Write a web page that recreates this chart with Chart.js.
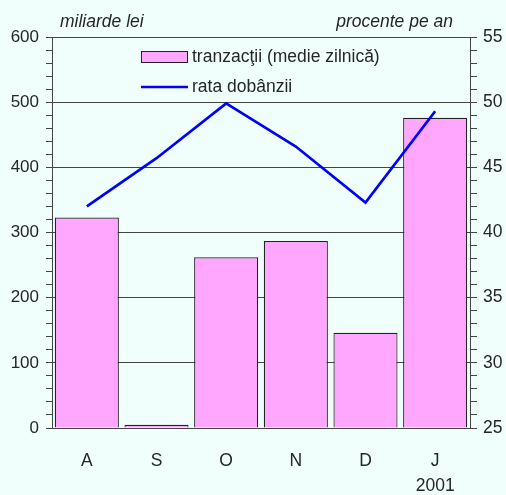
<!DOCTYPE html>
<html>
<head>
<meta charset="utf-8">
<script src="https://cdn.jsdelivr.net/npm/chart.js@4.4.1/dist/chart.umd.min.js"></script>
<style>
  html, body { margin: 0; padding: 0; background: #f0fffb; }
  #wrap { width: 506px; height: 495px; }
</style>
</head>
<body>
<div id="wrap"><canvas id="chart" width="506" height="495"></canvas></div>
<script>
// Data
const months = ['A', 'S', 'O', 'N', 'D', ['J', '2001']]
const tranzactii = [323, 5, 262, 287, 146, 476]
const rataDobanzii = [42.0, 45.7, 49.9, 46.6, 42.3, 49.3]
const leftTitle = 'miliarde lei'
const rightTitle = 'procente pe an'
const seriesLabels = ['tranzacţii (medie zilnică)', 'rata dobânzii']

const FONT = 'Arial, "Liberation Sans", sans-serif'
const TEXT = '#262626'
const GRID = '#444444'

// Axis titles and in-plot legend
const decorations = {
  id: 'decorations',
  afterDraw(chart) {
    const ctx = chart.ctx
    ctx.save()
    ctx.fillStyle = TEXT
    ctx.font = 'italic 17.5px ' + FONT
    ctx.textBaseline = 'alphabetic'
    ctx.textAlign = 'left'
    ctx.fillText(leftTitle, 60, 27)
    ctx.textAlign = 'right'
    ctx.fillText(rightTitle, 453, 27)

    // legend
    ctx.font = '17.5px ' + FONT
    ctx.textAlign = 'left'
    ctx.textBaseline = 'middle'
    ctx.fillStyle = '#ffa6ff'
    ctx.fillRect(141.5, 51.5, 46, 11)
    ctx.strokeStyle = '#222222'
    ctx.lineWidth = 1
    ctx.strokeRect(141.5, 51.5, 46, 11)
    ctx.fillStyle = TEXT
    ctx.fillText(seriesLabels[0], 192, 57)
    ctx.strokeStyle = '#0000ff'
    ctx.lineWidth = 2.5
    ctx.beginPath()
    ctx.moveTo(141, 87)
    ctx.lineTo(188, 87)
    ctx.stroke()
    ctx.fillText(seriesLabels[1], 192, 87)
    ctx.restore()
  }
}

new Chart(document.getElementById('chart'), {
  data: {
    labels: months,
    datasets: [
      {
        type: 'line',
        label: seriesLabels[1],
        data: rataDobanzii,
        yAxisID: 'y1',
        borderColor: '#0000ff',
        borderWidth: 2.7,
        pointRadius: 0,
        tension: 0,
        order: 0
      },
      {
        type: 'bar',
        label: seriesLabels[0],
        data: tranzactii,
        yAxisID: 'y',
        backgroundColor: '#ffa6ff',
        borderColor: '#222222',
        borderWidth: 1.2,
        barPercentage: 0.92,
        categoryPercentage: 1,
        order: 1
      }
    ]
  },
  options: {
    responsive: false,
    animation: false,
    layout: { padding: { top: 37, left: 0, right: 0, bottom: 0 } },
    plugins: {
      legend: { display: false },
      tooltip: { enabled: false }
    },
    scales: {
      x: {
        grid: { display: false, drawTicks: false },
        border: { display: true, color: GRID, width: 1 },
        ticks: { color: TEXT, font: { family: FONT, size: 17.5, lineHeight: 1.4 }, padding: 21, maxRotation: 0 },
        afterFit: (s) => { s.height = 67 }
      },
      y: {
        position: 'left',
        min: 0,
        max: 600,
        grid: {
          color: (c) => (c.tick && c.tick.value % 100 === 0 ? GRID : 'rgba(0,0,0,0)'),
          tickColor: GRID,
          tickLength: 6,
          lineWidth: 1
        },
        border: { display: true, color: GRID, width: 1 },
        ticks: {
          stepSize: 20,
          autoSkip: false,
          padding: 7,
          color: TEXT,
          font: { family: FONT, size: 17 },
          callback: (v) => (v % 100 === 0 ? v : '')
        },
        afterFit: (s) => { s.width = 52 }
      },
      y1: {
        position: 'right',
        min: 25,
        max: 55,
        grid: { drawOnChartArea: false, tickColor: GRID, tickLength: 7 },
        border: { display: true, color: GRID, width: 1 },
        ticks: {
          stepSize: 1,
          autoSkip: false,
          padding: 6,
          color: TEXT,
          font: { family: FONT, size: 17.5 },
          callback: (v) => (v % 5 === 0 ? v : '')
        },
        afterFit: (s) => { s.width = 36 }
      }
    }
  },
  plugins: [decorations]
})
</script>
</body>
</html>
